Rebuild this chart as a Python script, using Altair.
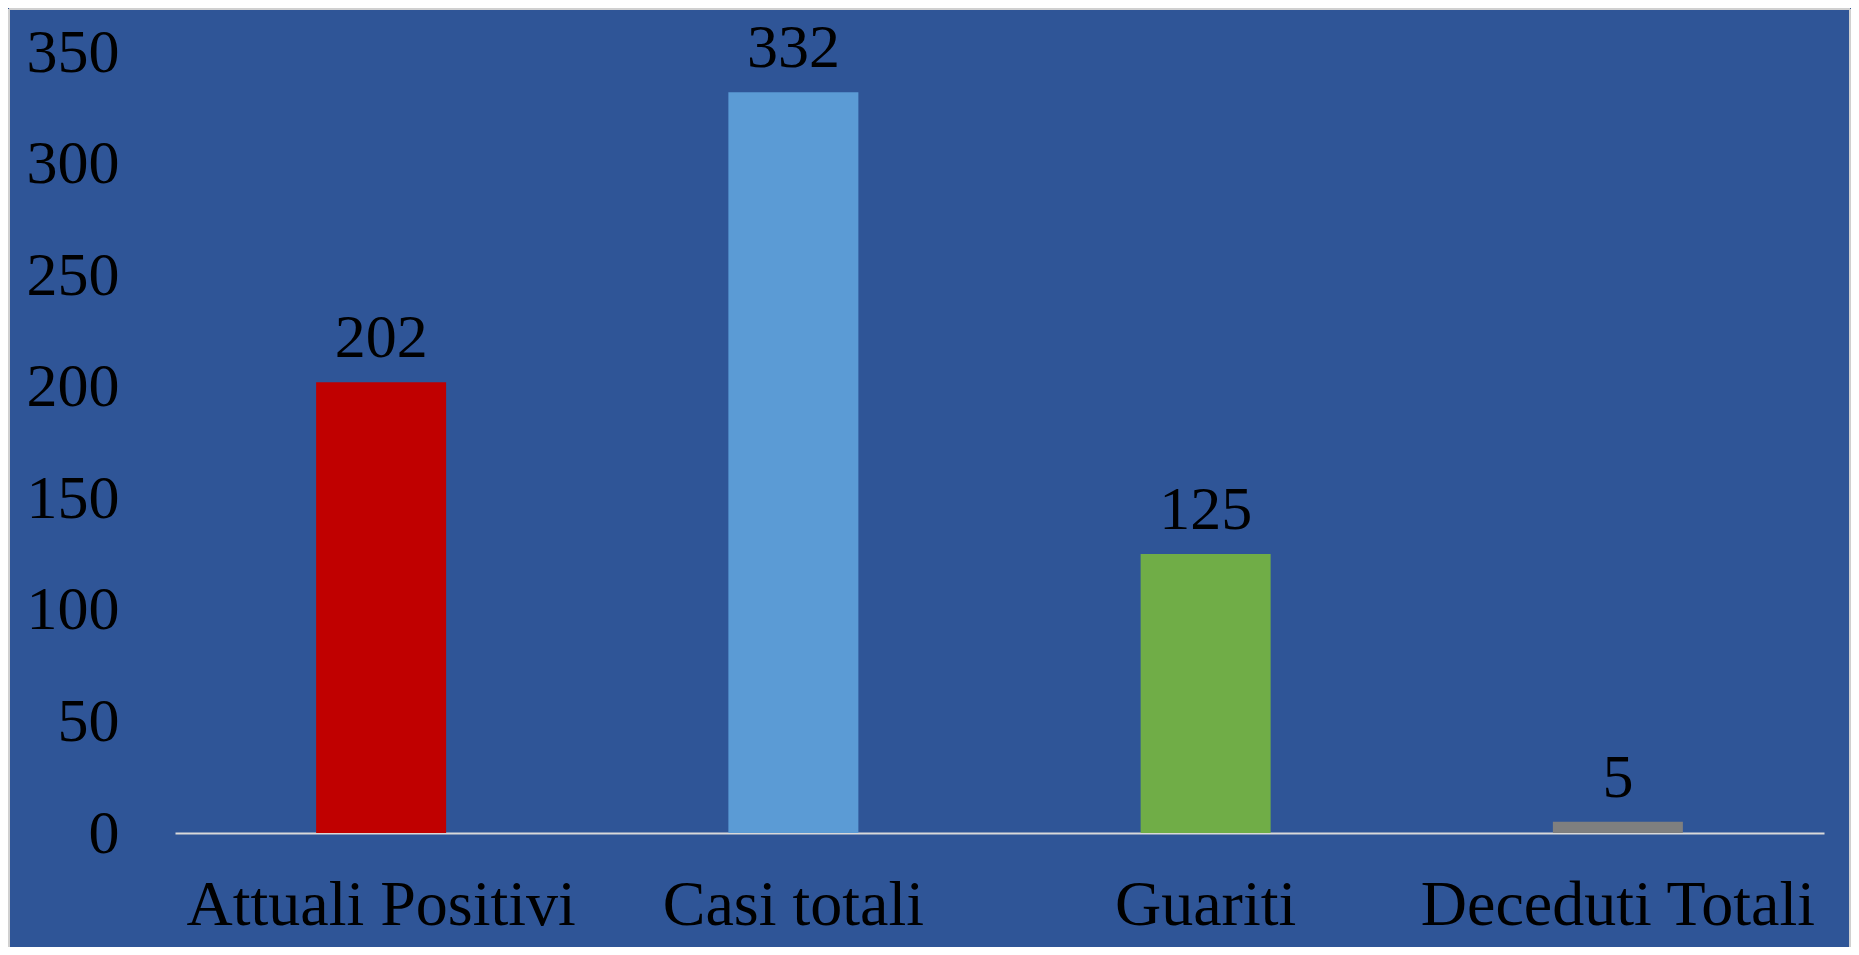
import altair as alt
import pandas as pd

categories = ["Attuali Positivi", "Casi totali", "Guariti", "Deceduti Totali"]
values = [202, 332, 125, 5]
colors = ["#C00000", "#5B9BD5", "#70AD47", "#7F7F7F"]
y_ticks = [0, 50, 100, 150, 200, 250, 300, 350]

df = pd.DataFrame({"cat": categories, "val": values, "col": colors})

W, H = 1649, 781
FONT = "Liberation Serif"

x = alt.X("cat:N", sort=categories, title=None,
          scale=alt.Scale(paddingInner=0, paddingOuter=0),
          axis=alt.Axis(labelAngle=0, labelFont=FONT, labelFontSize=64, labelColor="black",
                        labelPadding=40, ticks=False, domainColor="#D9D9D9", domainWidth=2,
                        labelLimit=600))
y = alt.Y("val:Q", title=None,
          scale=alt.Scale(domain=[0, 350], nice=False),
          axis=alt.Axis(values=y_ticks, labelFont=FONT, labelFontSize=62, labelColor="black",
                        labelPadding=56, ticks=False, domain=False, grid=False))

bars = alt.Chart(df).mark_bar(size=130).encode(
    x=x, y=y, color=alt.Color("col:N", scale=None)
)
labels = alt.Chart(df).mark_text(baseline="alphabetic", dy=-25, font=FONT, fontSize=62,
                                 color="black").encode(
    x=alt.X("cat:N", sort=categories), y="val:Q", text="val:Q"
)

border = pd.DataFrame({"k": [0]})
bc = "#D0D0D0"
top_line = alt.Chart(border).mark_rule(color=bc, strokeWidth=2).encode(
    x=alt.value(-166), x2=alt.value(W + 26), y=alt.value(-43))
left_line = alt.Chart(border).mark_rule(color=bc, strokeWidth=2).encode(
    x=alt.value(-166), y=alt.value(-43), y2=alt.value(H + 120))
right_line = alt.Chart(border).mark_rule(color=bc, strokeWidth=2).encode(
    x=alt.value(W + 26), y=alt.value(-43), y2=alt.value(H + 120))

chart = alt.layer(bars, labels, top_line, left_line, right_line).properties(
    width=W, height=H,
    autosize=alt.AutoSizeParams(type="none"),
    padding={"left": 167, "top": 44, "right": 27, "bottom": 114},
    background="#2F5597",
).configure_view(stroke=None)

chart.save("out.html", embed_options={"renderer": "svg", "actions": False})
